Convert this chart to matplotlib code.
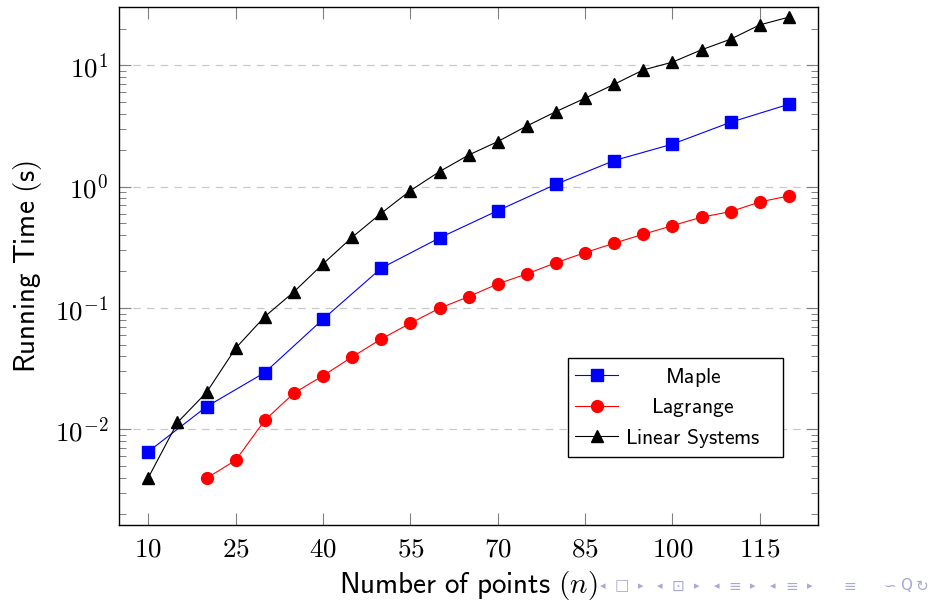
import matplotlib
matplotlib.use("Agg")
import matplotlib.pyplot as plt
from matplotlib.ticker import FixedLocator, FixedFormatter, LogLocator, NullFormatter
from matplotlib.transforms import Affine2D

plt.rcParams['mathtext.fontset'] = 'cm'
plt.rcParams['font.family'] = ['DejaVu Sans']

# ---------------- data ----------------
maple_n = [10, 20, 30, 40, 50, 60, 70, 80, 90, 100, 110, 120]
maple_t = [0.00656, 0.0154, 0.0294, 0.0809, 0.213, 0.378, 0.634, 1.046, 1.64, 2.24, 3.39, 4.77]

lagrange_n = [20, 25, 30, 35, 40, 45, 50, 55, 60, 65, 70, 75, 80, 85, 90, 95, 100, 105, 110, 115, 120]
lagrange_t = [0.00396, 0.00557, 0.0119, 0.0199, 0.0277, 0.0395, 0.0556, 0.0749, 0.0996, 0.124,
              0.158, 0.191, 0.236, 0.286, 0.342, 0.405, 0.477, 0.560, 0.622, 0.748, 0.838]

linsys_n = [10, 15, 20, 25, 30, 35, 40, 45, 50, 55, 60, 65, 70, 75, 80, 85, 90, 95, 100, 105, 110, 115, 120]
linsys_t = [0.00401, 0.0114, 0.0202, 0.0467, 0.0850, 0.136, 0.231, 0.383, 0.604, 0.927, 1.33, 1.82,
            2.35, 3.16, 4.15, 5.35, 6.97, 9.15, 10.6, 13.4, 16.4, 21.5, 24.9]

x_ticks = [10, 25, 40, 55, 70, 85, 100, 115]
x_tick_labels = [r'$%d$' % v for v in x_ticks]
y_ticks = [1e-2, 1e-1, 1e0, 1e1]
y_tick_labels = [r'$10^{-2}$', r'$10^{-1}$', r'$10^{0}$', r'$10^{1}$']

series_labels = ['Maple', 'Lagrange', 'Linear Systems']
x_label = r'$\mathsf{Number\ of\ points}\ (n)$'
y_label = r'$\mathsf{Running\ Time\ (s)}$'

nav_symbols = ['\u25C2', '\u25A1', '\u25B8', '\u25C2', '\u22A1', '\u25B8', '\u25C2', '\u2261', '\u25B8',
               '\u25C2', '\u2261', '\u25B8', '\u2261', '\u223D', 'Q', '\u21BB']
nav_x_px = [603, 622, 641, 660, 678, 697, 717, 735, 753, 773, 792, 810, 850, 890, 906, 922]

# ---------------- figure ----------------
fig = plt.figure(figsize=(9.34, 6.0), dpi=100)
ax = fig.add_axes([0.1277, 0.125, 0.7481, 0.8628])

l1, = ax.plot(maple_n, maple_t, color=(0, 0, 1), lw=0.8, marker='s', ms=8, mec=(0, 0, 1), mfc=(0, 0, 1))
l2, = ax.plot(lagrange_n, lagrange_t, color=(1, 0, 0), lw=0.8, marker='o', ms=8.5, mec=(1, 0, 0), mfc=(1, 0, 0))
l3, = ax.plot(linsys_n, linsys_t, color='black', lw=0.8, marker='^', ms=8, mec='black', mfc='black')

ax.set_yscale('log')
ax.set_xlim(5, 125)
ax.set_ylim(0.00163, 30.0)

ax.xaxis.set_major_locator(FixedLocator(x_ticks))
ax.xaxis.set_major_formatter(FixedFormatter(x_tick_labels))
ax.yaxis.set_major_locator(FixedLocator(y_ticks))
ax.yaxis.set_major_formatter(FixedFormatter(y_tick_labels))
ax.yaxis.set_minor_locator(LogLocator(base=10, subs=range(2, 10)))
ax.yaxis.set_minor_formatter(NullFormatter())

ax.tick_params(axis='both', which='major', direction='in', length=8.5, width=0.8,
               color='#808080', top=True, right=True, labelsize=19.5, pad=8)
ax.tick_params(axis='y', which='minor', direction='in', length=5, width=0.7,
               color='#808080', left=True, right=True)
ax.tick_params(axis='x', which='minor', bottom=False, top=False)

for s in ax.spines.values():
    s.set_linewidth(1.0)
    s.set_color('black')

ax.grid(True, which='major', axis='y', color='#c8c8c8', lw=0.9, linestyle=(0, (6, 5)))
ax.set_axisbelow(True)

ax.set_xlabel(x_label, fontsize=21, labelpad=5)
ax.set_ylabel(y_label, fontsize=21, labelpad=8)

leg = ax.legend([l1, l2, l3], [r'$\mathsf{%s}$' % s.replace(' ', r'\ ') for s in series_labels],
                loc='lower left', bbox_to_anchor=(0.642, 0.131, 0.308, 0.194), mode='expand',
                fontsize=15.5, frameon=True, fancybox=False, edgecolor='black',
                framealpha=1, handlelength=2.0, handletextpad=0.3, borderpad=0.35,
                labelspacing=0.35, borderaxespad=0)
leg.get_frame().set_linewidth(1.0)

# centre the legend texts within their column
fig.canvas.draw()
r = fig.canvas.get_renderer()
texts = leg.get_texts()
widths = [t.get_window_extent(r).width for t in texts]
wmax = max(widths)
for t, w in zip(texts, widths):
    t.set_transform(t.get_transform() + Affine2D().translate((wmax - w) / 2.0, 0))

# beamer navigation symbols
W, H = 934.0, 600.0
for sym, xp in zip(nav_symbols, nav_x_px):
    fs = 8 if sym in ('\u25C2', '\u25B8') else 11
    fig.text(xp / W, 1 - 586 / H, sym, ha='center', va='center', fontsize=fs,
             color='#a8a8d8', family=['DejaVu Sans'])

fig.savefig('out.png', dpi=100)
